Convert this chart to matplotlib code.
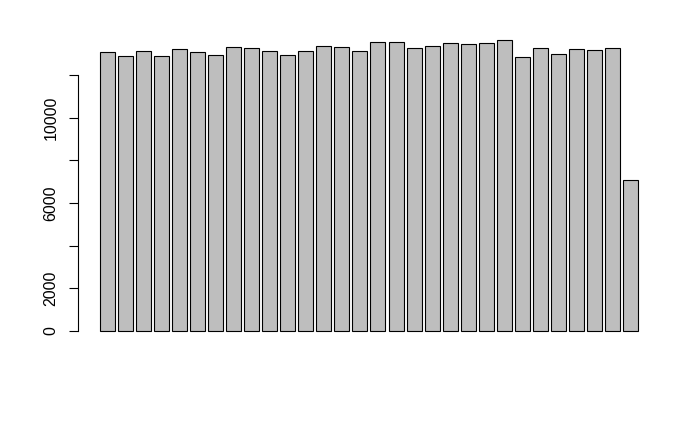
import numpy as np
import matplotlib
matplotlib.use("Agg")
import matplotlib.pyplot as plt

# bar heights (30 bars, no labels)
values = [13054, 12866, 13101, 12866, 13194, 13054, 12913, 13288, 13241, 13101,
          12913, 13101, 13335, 13288, 13101, 13522, 13522, 13241, 13335, 13475,
          13429, 13475, 13616, 12820, 13241, 12960, 13194, 13148, 13241, 7059]
y_ticks = [0, 2000, 4000, 6000, 8000, 10000, 12000]
y_labels = ["0", "2000", "", "6000", "", "10000", ""]

plt.rcParams['font.family'] = ['Liberation Sans', 'DejaVu Sans']

fig = plt.figure(figsize=(7, 4.32), dpi=100)
ax = fig.add_axes([0.1121, 0.2069, 0.83, 0.7267])

# R barplot layout: width 1, space 0.2
n = len(values)
x = 0.2 + 1.2 * np.arange(n) + 0.5
ax.bar(x, values, width=1.0, color="#BEBEBE", edgecolor="black", linewidth=0.8)

# R style 4% axis extension
x_lo, x_hi = 0.2, 0.2 + 1.2 * n - 0.2
dx = 0.04 * (x_hi - x_lo)
ax.set_xlim(x_lo - dx, x_hi + dx)
ymax = max(values)
ax.set_ylim(-0.04 * ymax, ymax * 1.04)

for s in ["top", "right", "bottom"]:
    ax.spines[s].set_visible(False)
ax.spines["left"].set_bounds(0, 12000)
ax.spines["left"].set_linewidth(0.8)
ax.set_xticks([])
ax.set_yticks(y_ticks)
ax.set_yticklabels(y_labels, rotation=90, va="center", fontsize=11.5)
ax.tick_params(axis="y", length=6.5, width=0.8, pad=8)

fig.savefig("out.png", dpi=100)
